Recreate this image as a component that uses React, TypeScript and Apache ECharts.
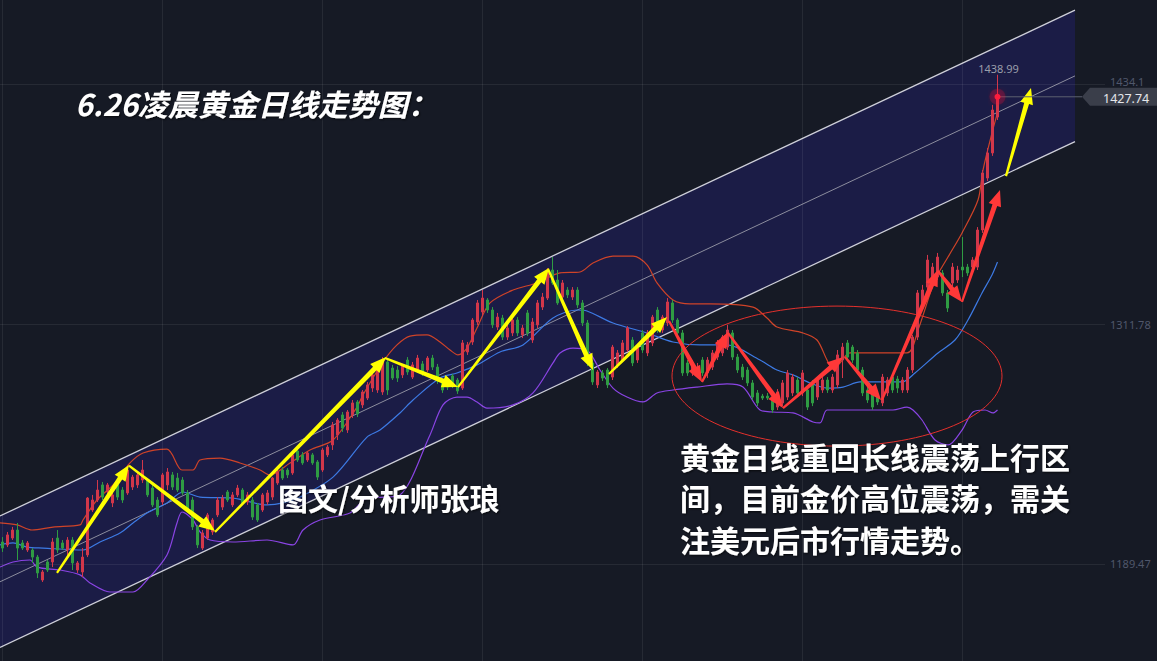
import React, { useEffect, useRef } from 'react';
import * as echarts from 'echarts';

const BG = '#161a25';
const FONT_CJK = "'Noto Sans CJK SC', 'Noto Sans', sans-serif";
const FONT_NUM = "'Noto Sans', 'DejaVu Sans', sans-serif";

// daily candles: [open, close, low, high]
const candles: number[][] = [
  [1200.7, 1197.6, 1195.6, 1203.2], [1199.2, 1204.3, 1198.1, 1205.8], [1202.7, 1206.8, 1201.7, 1208.4], [1206.8, 1197.6, 1191.5, 1210.4],
  [1200.2, 1197.6, 1196.6, 1201.7], [1196.6, 1200.2, 1195.6, 1201.2], [1196.6, 1193.0, 1190.0, 1197.6], [1193.0, 1184.9, 1182.3, 1194.1],
  [1181.3, 1185.4, 1180.3, 1186.4], [1190.5, 1186.4, 1185.4, 1191.5], [1190.5, 1200.7, 1187.9, 1202.7], [1202.7, 1196.6, 1195.1, 1206.8],
  [1200.2, 1197.6, 1196.6, 1201.7], [1196.6, 1201.7, 1193.0, 1203.2], [1201.7, 1190.0, 1186.4, 1203.2], [1186.4, 1190.0, 1184.9, 1191.0],
  [1185.4, 1193.0, 1182.8, 1197.6], [1194.1, 1223.1, 1193.0, 1223.6], [1217.0, 1222.1, 1216.0, 1224.7], [1222.1, 1227.2, 1221.1, 1232.3],
  [1229.8, 1223.6, 1222.1, 1231.3], [1226.2, 1229.8, 1224.7, 1230.8], [1220.6, 1224.7, 1218.5, 1225.7], [1229.8, 1223.6, 1222.1, 1230.8],
  [1227.2, 1222.1, 1220.6, 1228.7], [1225.7, 1237.4, 1224.7, 1240.0], [1228.7, 1233.8, 1227.2, 1234.9], [1229.8, 1234.9, 1228.2, 1236.4],
  [1232.3, 1237.4, 1230.8, 1242.5], [1232.3, 1224.7, 1223.6, 1233.3], [1228.2, 1219.6, 1218.5, 1229.8], [1222.1, 1214.5, 1213.4, 1223.6],
  [1221.1, 1234.9, 1219.6, 1235.9], [1229.8, 1236.4, 1227.2, 1238.4], [1234.9, 1228.7, 1227.2, 1236.4], [1233.3, 1227.2, 1226.2, 1235.9],
  [1232.3, 1225.7, 1224.7, 1233.8], [1225.7, 1217.0, 1216.0, 1227.2], [1222.1, 1208.4, 1206.8, 1223.6], [1208.4, 1199.2, 1197.6, 1209.4],
  [1197.6, 1205.3, 1196.6, 1206.8], [1202.7, 1214.5, 1201.7, 1215.5], [1205.8, 1211.9, 1204.3, 1212.9], [1214.5, 1222.1, 1213.4, 1223.6],
  [1218.5, 1223.1, 1217.0, 1224.7], [1226.2, 1222.1, 1221.1, 1227.2], [1219.6, 1224.7, 1218.5, 1226.2], [1224.7, 1228.2, 1223.6, 1229.8],
  [1227.2, 1220.6, 1219.6, 1228.2], [1221.1, 1224.7, 1219.6, 1226.2], [1222.1, 1213.4, 1211.9, 1223.6], [1219.6, 1211.9, 1210.9, 1220.6],
  [1217.0, 1224.7, 1216.0, 1225.7], [1221.1, 1225.7, 1219.6, 1227.2], [1223.6, 1233.3, 1222.1, 1233.8], [1230.8, 1236.4, 1229.8, 1237.4],
  [1237.4, 1233.3, 1232.3, 1238.9], [1237.4, 1234.9, 1233.3, 1238.4], [1235.9, 1245.1, 1234.9, 1246.1], [1247.1, 1242.5, 1241.5, 1248.1],
  [1245.1, 1241.0, 1240.0, 1246.6], [1242.5, 1246.1, 1241.5, 1247.1], [1245.1, 1241.0, 1240.0, 1246.1], [1241.5, 1233.8, 1232.3, 1242.5],
  [1237.4, 1247.6, 1236.4, 1248.6], [1245.1, 1249.1, 1244.0, 1250.2], [1250.2, 1260.4, 1247.6, 1261.9], [1255.3, 1262.9, 1252.7, 1263.9],
  [1265.5, 1258.8, 1256.8, 1267.0], [1257.8, 1267.0, 1256.3, 1268.0], [1265.5, 1271.6, 1263.9, 1273.1], [1272.1, 1266.0, 1264.4, 1273.1],
  [1270.6, 1277.2, 1269.0, 1278.2], [1274.1, 1280.8, 1273.1, 1282.3], [1279.2, 1285.9, 1277.2, 1286.9], [1278.2, 1288.4, 1276.7, 1290.4],
  [1277.2, 1293.5, 1275.7, 1295.0], [1292.5, 1278.2, 1275.7, 1293.5], [1289.4, 1284.3, 1283.3, 1291.0], [1288.4, 1284.3, 1282.3, 1290.4],
  [1285.9, 1290.4, 1284.3, 1291.5], [1293.5, 1287.4, 1285.9, 1295.0], [1284.8, 1291.0, 1283.8, 1292.5], [1288.4, 1294.5, 1286.9, 1296.1],
  [1291.5, 1286.9, 1285.4, 1293.0], [1288.4, 1294.5, 1287.4, 1295.5], [1294.5, 1289.9, 1288.4, 1296.1], [1289.9, 1282.8, 1281.3, 1291.5],
  [1282.3, 1278.2, 1276.7, 1283.8], [1282.3, 1279.7, 1278.2, 1283.3], [1285.4, 1280.8, 1279.2, 1286.4], [1283.3, 1277.7, 1276.2, 1284.3],
  [1279.2, 1302.2, 1278.2, 1303.7], [1297.6, 1301.2, 1296.1, 1302.7], [1302.7, 1313.9, 1301.2, 1314.9], [1312.9, 1322.6, 1311.4, 1324.1],
  [1318.0, 1325.1, 1315.9, 1329.2], [1324.1, 1319.0, 1317.5, 1325.1], [1319.0, 1311.4, 1309.8, 1320.5], [1310.3, 1315.4, 1308.8, 1317.5],
  [1314.9, 1305.2, 1303.7, 1316.5], [1305.2, 1309.8, 1303.7, 1311.4], [1307.3, 1313.9, 1305.7, 1315.4], [1313.9, 1307.3, 1305.7, 1315.4],
  [1306.3, 1309.8, 1304.7, 1311.4], [1317.5, 1307.3, 1305.7, 1319.0], [1303.7, 1312.9, 1302.2, 1314.9], [1311.4, 1322.6, 1309.8, 1324.1],
  [1320.5, 1325.6, 1319.0, 1327.7], [1325.1, 1339.4, 1324.1, 1340.4], [1339.4, 1332.8, 1331.8, 1346.0], [1334.3, 1322.6, 1321.6, 1339.4],
  [1325.6, 1332.8, 1324.1, 1334.3], [1329.2, 1326.7, 1325.1, 1330.7], [1325.6, 1329.2, 1324.1, 1330.7], [1329.2, 1321.6, 1320.0, 1330.7],
  [1322.6, 1312.4, 1310.8, 1324.1], [1312.4, 1292.0, 1290.4, 1313.9], [1292.0, 1282.3, 1280.8, 1293.5], [1280.8, 1287.4, 1279.2, 1288.4],
  [1286.9, 1284.3, 1282.8, 1288.4], [1288.4, 1280.8, 1279.2, 1289.4], [1284.8, 1300.1, 1283.3, 1301.2], [1291.0, 1297.1, 1289.4, 1298.6],
  [1293.5, 1302.2, 1292.5, 1303.7], [1298.6, 1309.8, 1297.6, 1310.8], [1303.7, 1292.0, 1290.4, 1305.2], [1293.5, 1300.1, 1292.0, 1301.7],
  [1307.3, 1298.6, 1297.1, 1308.8], [1297.1, 1307.3, 1295.5, 1308.8], [1302.2, 1315.4, 1300.6, 1316.5], [1319.0, 1308.8, 1307.3, 1320.5],
  [1308.8, 1315.4, 1307.3, 1316.5], [1312.4, 1323.1, 1310.8, 1325.1], [1322.6, 1313.9, 1312.4, 1324.1], [1313.9, 1307.3, 1305.7, 1314.9],
  [1307.3, 1286.9, 1285.4, 1308.8], [1292.0, 1286.9, 1285.4, 1293.5], [1286.9, 1292.0, 1285.4, 1293.5], [1285.9, 1289.9, 1284.3, 1292.0],
  [1293.5, 1286.9, 1285.4, 1295.0], [1286.9, 1293.5, 1284.3, 1295.0], [1289.9, 1297.1, 1288.4, 1298.6], [1295.0, 1302.2, 1293.5, 1303.7],
  [1297.1, 1305.2, 1295.5, 1306.3], [1300.1, 1308.8, 1298.6, 1311.4], [1307.3, 1295.0, 1293.5, 1308.8], [1295.0, 1288.4, 1286.9, 1296.6],
  [1289.9, 1284.8, 1283.3, 1291.5], [1288.4, 1281.8, 1280.2, 1289.9], [1281.8, 1274.6, 1273.1, 1283.3], [1276.7, 1271.6, 1270.0, 1278.2],
  [1275.1, 1274.1, 1273.1, 1276.2], [1275.1, 1274.1, 1273.1, 1276.7], [1274.6, 1268.0, 1266.5, 1276.2], [1269.5, 1277.2, 1268.0, 1278.7],
  [1271.6, 1281.8, 1270.0, 1283.3], [1274.6, 1286.9, 1273.1, 1288.4], [1276.7, 1284.8, 1275.1, 1286.4], [1283.3, 1276.7, 1275.1, 1284.8],
  [1276.7, 1286.9, 1275.1, 1288.4], [1278.2, 1269.5, 1268.0, 1279.7], [1281.8, 1271.6, 1270.0, 1283.3], [1274.6, 1283.3, 1273.1, 1284.8],
  [1278.2, 1283.3, 1276.7, 1284.8], [1283.3, 1278.2, 1276.7, 1284.8], [1278.2, 1284.8, 1276.7, 1286.4], [1280.8, 1296.1, 1279.2, 1298.6],
  [1293.5, 1300.1, 1284.3, 1302.2], [1302.2, 1295.0, 1293.5, 1303.7], [1300.1, 1293.5, 1292.0, 1301.2], [1297.1, 1288.4, 1286.9, 1298.6],
  [1288.4, 1276.7, 1275.1, 1289.9], [1278.2, 1273.1, 1271.6, 1279.7], [1276.7, 1269.5, 1268.0, 1278.2], [1274.6, 1272.1, 1270.6, 1276.2],
  [1271.6, 1284.8, 1270.0, 1286.4], [1276.7, 1283.3, 1275.1, 1284.8], [1284.8, 1278.2, 1276.7, 1286.4], [1283.8, 1279.2, 1276.7, 1285.4],
  [1278.2, 1283.3, 1276.7, 1284.8], [1278.2, 1288.4, 1276.7, 1289.9], [1288.4, 1305.2, 1286.9, 1306.3], [1305.2, 1327.7, 1303.7, 1329.2],
  [1320.5, 1329.2, 1319.0, 1331.8], [1330.7, 1344.5, 1329.2, 1347.1], [1335.8, 1340.9, 1334.3, 1343.0], [1335.8, 1346.0, 1334.3, 1348.1],
  [1337.9, 1327.7, 1326.2, 1339.4], [1327.7, 1320.0, 1318.0, 1329.2], [1332.8, 1340.9, 1331.2, 1343.0], [1334.3, 1339.4, 1332.8, 1341.5],
  [1340.9, 1339.4, 1335.8, 1356.2], [1340.9, 1337.9, 1336.4, 1342.5], [1340.9, 1344.5, 1339.4, 1346.0], [1340.9, 1359.8, 1339.4, 1361.3],
  [1359.8, 1388.9, 1358.3, 1390.4], [1386.3, 1399.1, 1384.8, 1401.6], [1399.1, 1421.0, 1397.6, 1423.6], [1417.4, 1427.74, 1415.9, 1438.99],
];

const slotCount = 221; // candle slots incl. empty space on the right
const categories = Array.from({ length: slotCount }, (_, i) => `D${i + 1}`);

// Bollinger bands: [slot index, price]
const bollUpper = [
  [-0.5, 1210.4], [2.9, 1209.4], [5.9, 1206.8], [10.1, 1208.3], [15.5, 1209.4], [16.1, 1211.9], [18.9, 1222.1], [22.5, 1230.8],
  [25.5, 1241.0], [28.1, 1246.1], [32.9, 1248.1], [35.9, 1237.4], [38.1, 1237.4], [39.5, 1242.5], [43.5, 1243.5], [47.5, 1241.0],
  [51.5, 1237.4], [53.5, 1234.9], [57.5, 1241.0], [61.5, 1247.6], [66.1, 1252.7], [70.9, 1269.5], [72.1, 1275.7], [76.1, 1292.5],
  [78.9, 1301.2], [81.5, 1305.7], [84.9, 1306.3], [87.5, 1302.7], [89.5, 1298.6], [91.1, 1296.1], [92.9, 1299.6], [94.9, 1309.8],
  [97.5, 1322.6], [102.1, 1329.2], [106.9, 1332.8], [111.5, 1337.9], [115.5, 1338.4], [118.1, 1343.0], [122.1, 1346.5], [126.1, 1346.5],
  [128.9, 1342.0], [130.9, 1332.8], [134.1, 1324.1], [137.5, 1322.1], [141.5, 1322.1], [150.1, 1320.5], [152.9, 1314.9], [154.9, 1310.3],
  [160.1, 1307.3], [162.9, 1303.7], [164.9, 1293.5], [166.1, 1288.9], [167.5, 1292.0], [169.5, 1297.1], [180.9, 1297.1], [183.1, 1308.8],
  [186.5, 1334.3], [189.1, 1346.0], [191.9, 1358.3], [195.1, 1375.1], [196.1, 1390.4], [197.9, 1409.3], [199, 1419.5],
];
const bollMid = [
  [-0.5, 1199.2], [2.1, 1200.2], [4.9, 1198.1], [8.1, 1197.6], [16.1, 1196.6], [19.5, 1200.7], [23.5, 1205.3], [26.1, 1210.4],
  [28.9, 1215.5], [32.9, 1220.6], [36.1, 1226.2], [39.5, 1223.6], [46.1, 1223.1], [52.9, 1219.6], [56.1, 1220.6], [59.5, 1223.6],
  [66.1, 1233.8], [72.9, 1254.2], [75.5, 1257.8], [79.5, 1266.5], [82.1, 1273.1], [87.5, 1284.3], [90.9, 1286.9], [94.9, 1291.0],
  [99.5, 1297.6], [104.1, 1301.2], [110.1, 1314.9], [114.9, 1319.0], [116.9, 1318.5], [122.1, 1312.4], [128.9, 1307.3], [134.1, 1302.7],
  [139.5, 1301.2], [144.9, 1301.2], [151.5, 1293.5], [154.9, 1288.4], [158.1, 1285.9], [161.5, 1281.8], [164.9, 1279.2], [168.1, 1279.7],
  [171.5, 1282.3], [179.9, 1282.3], [182.5, 1286.9], [187.1, 1297.1], [190.5, 1303.7], [193.1, 1313.9], [195.9, 1327.7], [197.9, 1336.9],
  [199, 1343.5],
];
const bollLower = [
  [-0.5, 1187.9], [2.1, 1190.5], [5.5, 1191.5], [6.9, 1187.9], [11.5, 1186.4], [15.5, 1183.9], [17.5, 1179.8], [21.5, 1175.2],
  [26.1, 1175.2], [28.9, 1181.3], [32.9, 1194.1], [34.9, 1210.4], [35.9, 1216.0], [38.1, 1211.9], [39.5, 1205.8], [41.5, 1201.7],
  [46.1, 1200.7], [52.9, 1201.7], [58.1, 1199.2], [60.1, 1206.8], [63.5, 1211.9], [69.5, 1215.5], [72.9, 1223.1], [76.1, 1223.6],
  [79.5, 1224.7], [85.5, 1255.3], [88.1, 1270.6], [90.9, 1274.6], [92.9, 1274.6], [94.9, 1272.1], [96.9, 1269.0], [102.1, 1270.6],
  [106.1, 1276.7], [110.1, 1292.0], [111.5, 1297.1], [114.1, 1299.6], [116.9, 1298.6], [119.5, 1288.4], [122.1, 1279.2], [124.9, 1274.6],
  [128.1, 1272.1], [130.9, 1276.7], [134.1, 1278.2], [138.9, 1279.7], [144.9, 1281.3], [148.1, 1279.7], [151.5, 1268.0], [154.1, 1267.0],
  [158.1, 1266.5], [162.1, 1261.9], [163.5, 1261.4], [164.9, 1268.0], [168.1, 1268.0], [178.1, 1268.0], [180.9, 1269.5], [182.1, 1268.0],
  [183.9, 1262.9], [186.5, 1252.7], [189.1, 1250.2], [191.9, 1257.8], [194.1, 1267.0], [196.5, 1268.0], [198.1, 1266.5], [199, 1268.0],
];

// rising channel
const channelUpper = [[-0.5, 1213.95], [214.5, 1471.9]];
const channelMid = [[-0.5, 1180.4], [214.5, 1438.4]];
const channelLower = [[-0.5, 1146.9], [214.5, 1404.9]];

// hand-drawn arrows: [x1, price1, x2, price2]
const yellowArrows = [
  [10.9, 1184.9, 25.3, 1240.0],
  [25.3, 1239.6, 42.5, 1206.3],
  [42.5, 1205.8, 76.7, 1295.0],
  [76.5, 1294.5, 91.1, 1279.7],
  [91.1, 1279.7, 109.3, 1340.4],
  [109.1, 1339.9, 118.1, 1288.4],
  [121.3, 1286.4, 132.9, 1315.4],
  [200.7, 1387.3, 205.7, 1432.2],
];
const redArrows = [
  [133.3, 1313.4, 139.9, 1282.3],
  [139.9, 1282.3, 145.1, 1307.8],
  [145.1, 1307.3, 156.1, 1269.0],
  [156.1, 1269.0, 168.1, 1295.0],
  [168.5, 1295.0, 175.7, 1273.1],
  [175.9, 1273.1, 187.1, 1339.4],
  [187.1, 1338.9, 191.9, 1323.1],
  [191.9, 1323.1, 199.5, 1380.2],
];
const focusEllipse = [[166.9, 1285.3, 33, 35.7]]; // center x, center price, half-width (slots), half-height (price)

const yTicks = [1189.47, 1311.78, 1434.1];
const gridVerticals = [0, 32, 64, 96, 128, 160, 192];
const lastClose = 1427.74;
const lastHigh = 1438.99;

const titleText = '6.26凌晨黄金日线走势图：';
const authorText = '图文/分析师张琅';
const commentText = '黄金日线重回长线震荡上行区\n间，目前金价高位震荡，需关\n注美元后市行情走势。';

function arrowPoints(p1: number[], p2: number[], w0: number, w1: number, headL: number, headW: number) {
  const dx = p2[0] - p1[0];
  const dy = p2[1] - p1[1];
  const len = Math.hypot(dx, dy) || 1;
  const ux = dx / len, uy = dy / len;
  const nx = -uy, ny = ux;
  const bx = p2[0] - ux * headL, by = p2[1] - uy * headL;
  return [
    [p1[0] + nx * w0 / 2, p1[1] + ny * w0 / 2],
    [bx + nx * w1 / 2, by + ny * w1 / 2],
    [bx + nx * headW / 2, by + ny * headW / 2],
    [p2[0], p2[1]],
    [bx - nx * headW / 2, by - ny * headW / 2],
    [bx - nx * w1 / 2, by - ny * w1 / 2],
    [p1[0] - nx * w0 / 2, p1[1] - ny * w0 / 2],
  ];
}

function arrowSeries(name: string, data: number[][], color: string, z: number) {
  return {
    name,
    type: 'custom',
    xAxisIndex: 1,
    yAxisIndex: 0,
    z,
    silent: true,
    dimensions: ['x1', 'y1', 'x2', 'y2'],
    encode: { x: [0, 2], y: [1, 3] },
    data,
    renderItem: (_p: any, api: any) => {
      const a = api.coord([api.value(0), api.value(1)]);
      const b = api.coord([api.value(2), api.value(3)]);
      return {
        type: 'polygon',
        shape: { points: arrowPoints(a, b, 2.2, 5, 16, 13) },
        style: { fill: color },
      };
    },
  };
}

function lineSeries(name: string, data: number[][], color: string, width: number, z: number, smooth: number | boolean) {
  return {
    name,
    type: 'line',
    xAxisIndex: 1,
    yAxisIndex: 0,
    data,
    z,
    smooth,
    silent: true,
    showSymbol: false,
    symbol: 'none',
    lineStyle: { color, width },
  };
}

export default function App() {
  const ref = useRef<HTMLDivElement>(null);

  useEffect(() => {
    document.body.style.margin = '0';
    document.body.style.background = BG;
    const chart = echarts.init(ref.current!, null, { renderer: 'svg' });

    const gridLineStyle = { color: 'rgba(255,255,255,0.07)', width: 1, type: 'solid' };
    const tickLabelStyle = { color: '#50576b', fontSize: 11, lineHeight: 11, fontFamily: FONT_NUM };

    chart.setOption({
      animation: false,
      backgroundColor: BG,
      grid: { left: 0, right: 52, top: 0, bottom: 0 },
      xAxis: [
        {
          type: 'category',
          data: categories,
          boundaryGap: true,
          axisLine: { show: false },
          axisTick: { show: false },
          axisLabel: { show: false },
          splitLine: { show: false },
        },
        { type: 'value', min: -0.5, max: slotCount - 0.5, show: false },
      ],
      yAxis: {
        type: 'value',
        position: 'right',
        min: 1140.0,
        max: 1477.1,
        axisLine: { show: false },
        axisTick: { show: false },
        splitLine: { show: false },
        axisLabel: {
          customValues: yTicks,
          ...tickLabelStyle,
          margin: 5,
          formatter: (v: number) => (v > lastClose ? `{hi|${v}}` : String(v)),
          rich: {
            hi: { ...tickLabelStyle, padding: [0, 0, 6, 0] },
          },
        },
      },
      series: [
        {
          name: 'channelFill',
          type: 'custom',
          xAxisIndex: 1,
          yAxisIndex: 0,
          z: 1,
          silent: true,
          data: [[channelUpper[0][0], channelUpper[0][1]]],
          renderItem: (_p: any, api: any) => ({
            type: 'polygon',
            shape: {
              points: [
                api.coord(channelUpper[0]),
                api.coord(channelUpper[1]),
                api.coord(channelLower[1]),
                api.coord(channelLower[0]),
              ],
            },
            style: { fill: '#1b1c46' },
          }),
        },
        {
          name: 'gridLines',
          type: 'line',
          xAxisIndex: 1,
          yAxisIndex: 0,
          z: 2,
          data: [],
          silent: true,
          markLine: {
            silent: true,
            symbol: 'none',
            label: { show: false },
            lineStyle: gridLineStyle,
            data: [
              ...yTicks.map((v) => ({ yAxis: v })),
              ...gridVerticals.map((v) => ({ xAxis: v })),
            ],
          },
        },
        lineSeries('channelUpper', channelUpper, '#cfd0da', 1.3, 3, false),
        lineSeries('channelMid', channelMid, '#8c8d9e', 1, 3, false),
        lineSeries('channelLower', channelLower, '#cfd0da', 1.3, 3, false),
        lineSeries('BOLL UP', bollUpper, '#cf4328', 1.2, 4, 0.3),
        lineSeries('BOLL MID', bollMid, '#3d7ae4', 1.2, 4, 0.3),
        lineSeries('BOLL DN', bollLower, '#8a44e4', 1.2, 4, 0.3),
        {
          name: 'XAUUSD',
          type: 'candlestick',
          xAxisIndex: 0,
          yAxisIndex: 0,
          z: 5,
          barWidth: 3,
          silent: true,
          data: candles,
          itemStyle: {
            color: '#d2374a',
            color0: '#2f9c43',
            borderColor: '#d2374a',
            borderColor0: '#2f9c43',
            borderWidth: 1,
          },
        },
        {
          name: 'focus',
          type: 'custom',
          xAxisIndex: 1,
          yAxisIndex: 0,
          z: 6,
          silent: true,
          data: focusEllipse,
          renderItem: (_p: any, api: any) => {
            const c = api.coord([api.value(0), api.value(1)]);
            const s = api.size([api.value(2), api.value(3)]);
            return {
              type: 'ellipse',
              shape: { cx: c[0], cy: c[1], rx: s[0], ry: s[1] },
              style: { fill: 'none', stroke: '#e5302c', lineWidth: 1 },
            };
          },
        },
        arrowSeries('yellowArrows', yellowArrows, '#ffff00', 7),
        arrowSeries('redArrows', redArrows, '#ff3838', 7),
      ],
    });

    const xLast = chart.convertToPixel({ xAxisIndex: 1 }, candles.length - 1) as number;
    const yClose = chart.convertToPixel({ yAxisIndex: 0 }, lastClose) as number;
    const yHigh = chart.convertToPixel({ yAxisIndex: 0 }, lastHigh) as number;
    const tagX = 1082;

    const cjkStyle = {
      fill: '#ffffff',
      fontFamily: FONT_CJK,
      fontWeight: 'bold',
      fontSize: 30,
      textShadowColor: 'rgba(0,0,0,0.7)',
      textShadowBlur: 2,
      textShadowOffsetX: 1,
      textShadowOffsetY: 1,
    };

    chart.setOption({
      graphic: [
        {
          type: 'line', z: 50, silent: true,
          shape: { x1: xLast, y1: yClose, x2: tagX, y2: yClose },
          style: { stroke: '#5d6170', lineWidth: 1 },
        },
        {
          type: 'polygon', z: 51, silent: true,
          shape: { points: [[tagX, yClose], [tagX + 8, yClose - 9], [1157, yClose - 9], [1157, yClose + 9], [tagX + 8, yClose + 9]] },
          style: { fill: '#3a3e4a' },
        },
        {
          type: 'text', z: 52, silent: true, x: 1103, y: yClose + 1.5,
          style: { text: String(lastClose), fill: '#e4e6ea', fontSize: 12.5, lineHeight: 12, fontFamily: FONT_NUM, textVerticalAlign: 'middle', textAlign: 'left' },
        },
        {
          type: 'circle', z: 52, silent: true,
          shape: { cx: xLast, cy: yClose, r: 8 },
          style: { fill: 'rgba(255,20,50,0.22)' },
        },
        {
          type: 'circle', z: 53, silent: true,
          shape: { cx: xLast, cy: yClose, r: 3 },
          style: { fill: '#ff1e3c', shadowBlur: 8, shadowColor: '#ff0030' },
        },
        {
          type: 'text', z: 52, silent: true, x: xLast + 1, y: yHigh - 6,
          style: { text: String(lastHigh), fill: '#9a9eaa', fontSize: 11, fontFamily: FONT_NUM, textAlign: 'center', textVerticalAlign: 'middle' },
        },
        {
          type: 'text', z: 60, silent: true, x: 75, y: 103,
          style: { ...cjkStyle, text: titleText, fontStyle: 'italic', textAlign: 'left', textVerticalAlign: 'middle' },
        },
        {
          type: 'text', z: 60, silent: true, x: 278, y: 497,
          style: { ...cjkStyle, text: authorText, textAlign: 'left', textVerticalAlign: 'middle' },
        },
        {
          type: 'text', z: 60, silent: true, x: 680, y: 435,
          style: { ...cjkStyle, text: commentText, lineHeight: 41.5, textAlign: 'left', textVerticalAlign: 'top' },
        },
      ],
    });

    return () => chart.dispose();
  }, []);

  return (
    <div
      ref={ref}
      style={{ position: 'fixed', left: 0, top: 0, width: 1157, height: 661, background: BG }}
    />
  );
}
